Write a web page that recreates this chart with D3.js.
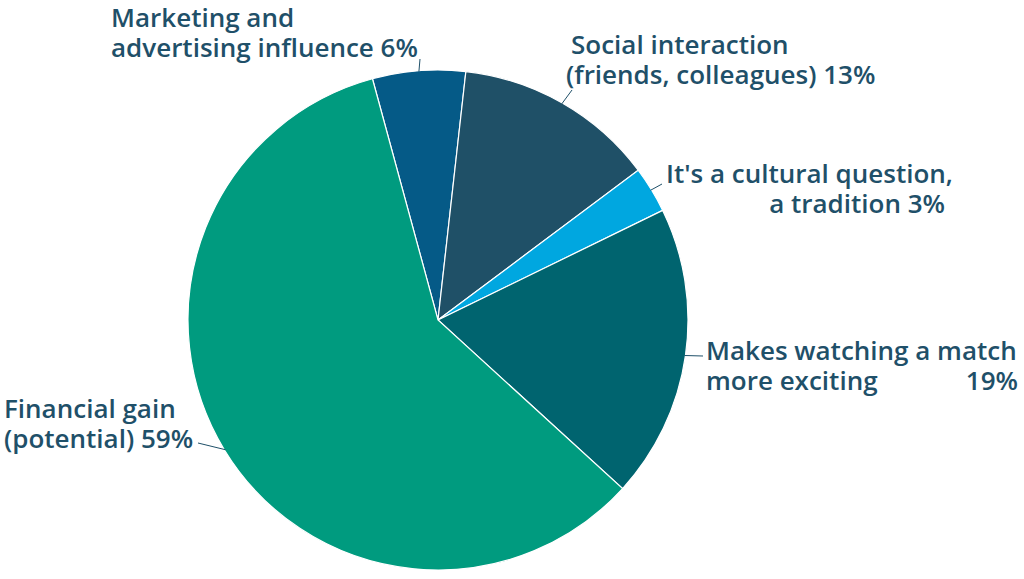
<!DOCTYPE html>
<meta charset="utf-8">
<style>
  body { margin: 0; background: #fff; }
  text {
    font: 600 26px "Open Sans", sans-serif;
    fill: #1f5069;
  }
  .leader {
    fill: none;
    stroke: #1f5069;
    stroke-width: 1px;
  }
</style>
<body>
<script src="https://d3js.org/d3.v7.min.js"></script>
<script>

var width = 1024,
    height = 579;

// clockwise from the top-left
var categories = ["Marketing and advertising influence", "Social interaction (friends, colleagues)", "It's a cultural question, a tradition", "Makes watching a match more exciting", "Financial gain (potential)"];
var shares = [6, 13, 3, 19, 59];
var colors = ["#055a87", "#1f5067", "#00a7e0", "#00646f", "#009b7f"];

// how each label is broken and placed
var labelLines = [
  ["Marketing and", "advertising influence 6%"],
  ["Social interaction", "(friends, colleagues) 13%"],
  ["It's a cultural question,", "a tradition 3%"],
  ["Makes watching a match", "more exciting"],
  ["Financial gain", "(potential) 59%"]
];
// first line and second line anchor separately where the picture does
var labelPos = [
  {x0: 111, x1: 111, y: 27, a0: "start", a1: "start", end: [420, 59]},
  {x0: 571, x1: 566, y: 54, a0: "start", a1: "start", end: [572, 90]},
  {x0: 666, x1: 945, y: 183, a0: "start", a1: "end", end: [662, 184]},
  {x0: 706, x1: 706, y: 360, a0: "start", a1: "start", end: [703, 356]},
  {x0: 4, x1: 4, y: 418, a0: "start", a1: "start", end: [198, 443]}
];

var cx = 438, cy = 320, r = 250;

var svg = d3.select("body").append("svg")
  .attr("width", width)
  .attr("height", height);

var pie = d3.pie()
  .sort(null)
  .startAngle(-15.2 * Math.PI / 180)
  .endAngle((360 - 15.2) * Math.PI / 180);

var arc = d3.arc().innerRadius(0).outerRadius(r);

var arcs = pie(shares);

var g = svg.append("g").attr("transform", "translate(" + cx + "," + cy + ")");

g.selectAll("path")
  .data(arcs)
  .enter()
  .append("path")
    .attr("d", arc)
    .style("fill", function(d, i) { return colors[i]; })
    .style("stroke", "#fff")
    .style("stroke-width", 1.2);

// leader lines from the rim to the label
svg.selectAll("path.leader")
  .data(arcs)
  .enter()
  .append("path")
    .attr("class", "leader")
    .attr("d", function(d, i) {
      var a = (d.startAngle + d.endAngle) / 2;
      var x0 = cx + Math.sin(a) * (r - 1), y0 = cy - Math.cos(a) * (r - 1);
      var e = labelPos[i].end;
      return "M" + x0 + "," + y0 + "L" + e[0] + "," + e[1];
    });

labelLines.forEach(function(lines, i) {
  var p = labelPos[i];
  lines.forEach(function(line, j) {
    svg.append("text")
      .attr("text-anchor", j === 0 ? p.a0 : p.a1)
      .attr("x", j === 0 ? p.x0 : p.x1)
      .attr("y", p.y + j * 30)
      .text(line);
  });
});

// the 19% sits on its own at the right edge
svg.append("text")
  .attr("x", 1018)
  .attr("y", 390)
  .attr("text-anchor", "end")
  .text(shares[3] + "%");

</script>
